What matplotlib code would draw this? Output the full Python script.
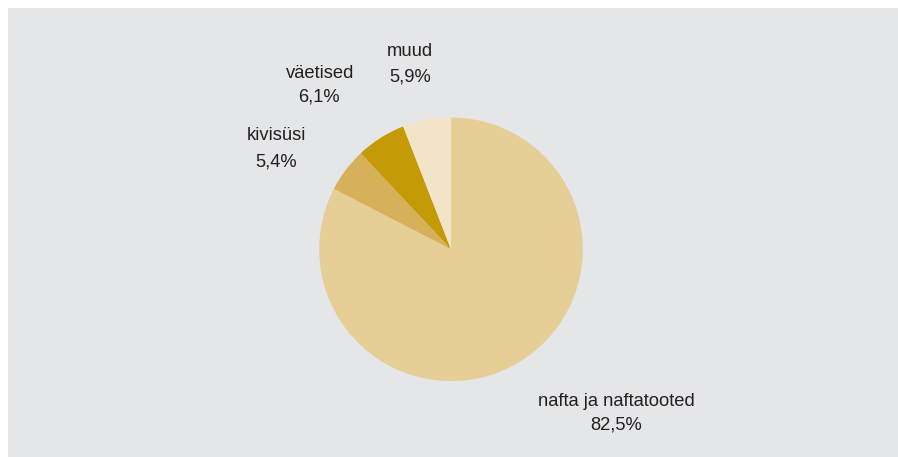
import matplotlib.pyplot as plt
from matplotlib.patches import Rectangle

# Data
labels = ['nafta ja naftatooted', 'kivisüsi', 'väetised', 'muud']
shares = [82.5, 5.4, 6.1, 5.9]
pct_text = ['82,5%', '5,4%', '6,1%', '5,9%']
colors = ['#E6CE97', '#D6B15A', '#C49A06', '#F2E4C6']

# label centres in pixel coordinates (x, y from top)
label_pos = [(616, 401), (276, 136), (320, 73), (410, 51)]
pct_pos = [(616, 425), (276, 162), (319, 97), (410, 77)]

plt.rcParams['font.family'] = ['Liberation Sans', 'DejaVu Sans']

W, H = 898, 457
fig = plt.figure(figsize=(W / 100, H / 100), dpi=100, facecolor='white')
ax = fig.add_axes([0, 0, 1, 1])

ax.add_patch(Rectangle((8, 0), W - 8, H - 8, facecolor='#E5E6E8', edgecolor='none', zorder=0))

ax.pie(shares, colors=colors, startangle=90, counterclock=False,
       center=(451, H - 249.3), radius=131.8,
       wedgeprops=dict(linewidth=0), frame=True)
ax.set_xlim(0, W)
ax.set_ylim(0, H)
ax.set_axis_off()

for lab, pct, (lx, ly), (px, py) in zip(labels, pct_text, label_pos, pct_pos):
    ax.text(lx, H - ly, lab, ha='center', va='center', fontsize=13.2, color='#231F20')
    ax.text(px, H - py, pct, ha='center', va='center', fontsize=13.2, color='#231F20')

fig.savefig('out.png', dpi=100, facecolor='white')
